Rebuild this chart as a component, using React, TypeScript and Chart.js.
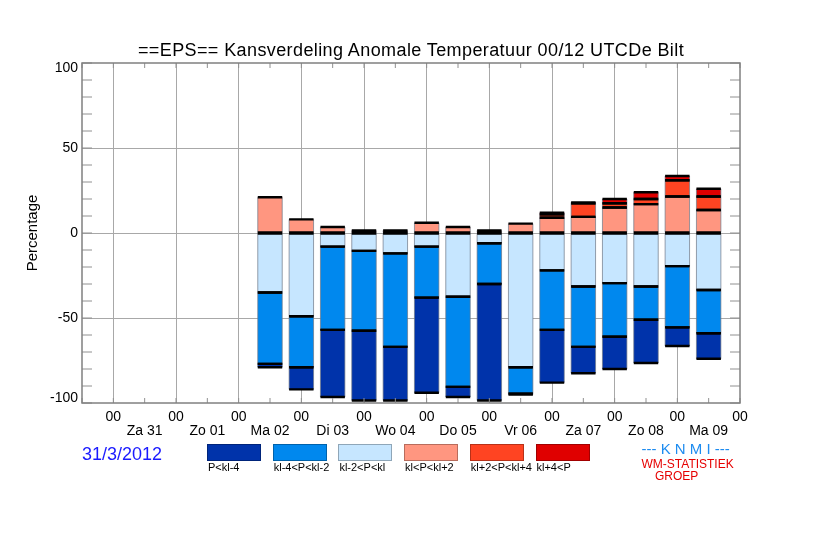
import { useEffect, useRef } from "react";
import { Chart, registerables } from "chart.js";

Chart.register(...registerables);

// x axis runs in half-day steps: 0 = Vr 30 12 UTC, odd = 00 UTC, even = 12 UTC
const dayLabels = ["Za 31", "Zo 01", "Ma 02", "Di 03", "Wo 04", "Do 05", "Vr 06", "Za 07", "Zo 08", "Ma 09"];
const barSlots = [6, 7, 8, 9, 10, 11, 12, 13, 14, 15, 16, 17, 18, 19, 20];

// percentages per class (below normal drawn downwards)
const pBelow4 = [2, 13, 39.5, 41, 31.5, 56, 6, 68.5, 0.5, 31, 15.5, 19, 25.5, 11, 15];
const p4to2 = [42, 30, 49, 47, 55, 30, 53, 24, 15.5, 35, 35.5, 31.5, 19.5, 36, 25.5];
const p2to0 = [35, 49, 8, 10.5, 12, 8, 37.5, 6, 79, 22, 31.5, 29.5, 31.5, 19.5, 33.5];
const p0to2 = [21, 8, 3.5, 1.5, 1.5, 6, 3.5, 1.5, 5.5, 9, 9.5, 15, 17, 21.5, 13.5];
const p2to4 = [0, 0, 0, 0, 0, 0, 0, 0, 0, 2, 8, 2.5, 3, 9.5, 8];
const pAbove4 = [0, 0, 0, 0, 0, 0, 0, 0, 0, 1, 0.5, 2.5, 4, 2.5, 4.5];

const classLabels = ["P<kl-4", "kl-4<P<kl-2", "kl-2<P<kl", "kl<P<kl+2", "kl+2<P<kl+4", "kl+4<P"];
const classColors = ["#0033aa", "#0088ee", "#c6e6ff", "#ff9680", "#ff4422", "#e00000"];

const yTickLabels = [100, 50, 0, -50, -100];

const FONT = "'Liberation Sans', Arial, Helvetica, sans-serif";

const toPoints = (vals: number[], sign: number) =>
  vals.map((v, i) => ({ x: barSlots[i], y: sign * v }));

const framePlugin = {
  id: "frame",
  afterDatasetsDraw(chart: any) {
    const { ctx, chartArea: a, scales } = chart;
    ctx.save();
    chart.data.datasets.forEach((ds: any, i: number) => {
      const meta = chart.getDatasetMeta(i);
      meta.data.forEach((bar: any, j: number) => {
        if (!ds.data[j].y) return;
        const { x, y, base, width } = bar.getProps(["x", "y", "base", "width"], true);
        const l = x - width / 2;
        const r = x + width / 2;
        ctx.strokeStyle = "rgba(110,120,135,0.7)";
        ctx.lineWidth = 1;
        ctx.beginPath();
        ctx.moveTo(l, y);
        ctx.lineTo(l, base);
        ctx.moveTo(r, y);
        ctx.lineTo(r, base);
        ctx.stroke();
        ctx.strokeStyle = "#000";
        ctx.lineWidth = 2.4;
        ctx.beginPath();
        ctx.moveTo(l, y);
        ctx.lineTo(r, y);
        ctx.moveTo(l, base);
        ctx.lineTo(r, base);
        ctx.stroke();
      });
    });

    ctx.strokeStyle = "#909090";
    ctx.lineWidth = 1;
    ctx.beginPath();
    scales.y.ticks.forEach((t: any) => {
      const py = scales.y.getPixelForValue(t.value);
      ctx.moveTo(a.left, py);
      ctx.lineTo(a.left + 10, py);
      ctx.moveTo(a.right - 10, py);
      ctx.lineTo(a.right, py);
    });
    scales.x.ticks.forEach((t: any) => {
      const px = scales.x.getPixelForValue(t.value);
      ctx.moveTo(px, a.bottom);
      ctx.lineTo(px, a.bottom - 5);
      ctx.moveTo(px, a.top);
      ctx.lineTo(px, a.top + 5);
    });
    ctx.stroke();

    ctx.strokeStyle = "#808080";
    ctx.lineWidth = 1.5;
    ctx.strokeRect(a.left, a.top, a.right - a.left, a.bottom - a.top);
    ctx.restore();
  },
};

function Text({ x, base, size, color = "#000", children, spacing = 0 }: any) {
  return (
    <div
      style={{
        position: "absolute",
        left: x,
        top: base - size * 0.8465,
        fontFamily: FONT,
        fontSize: size,
        lineHeight: `${size}px`,
        color,
        whiteSpace: "pre",
        letterSpacing: spacing,
      }}
    >
      {children}
    </div>
  );
}

export default function App() {
  const canvasRef = useRef<HTMLCanvasElement | null>(null);

  useEffect(() => {
    document.body.style.margin = "0";
    if (!canvasRef.current) return;
    const chart = new Chart(canvasRef.current, {
      type: "bar",
      data: {
        datasets: [
          { label: classLabels[2], data: toPoints(p2to0, -1), backgroundColor: classColors[2] },
          { label: classLabels[1], data: toPoints(p4to2, -1), backgroundColor: classColors[1] },
          { label: classLabels[0], data: toPoints(pBelow4, -1), backgroundColor: classColors[0] },
          { label: classLabels[3], data: toPoints(p0to2, 1), backgroundColor: classColors[3] },
          { label: classLabels[4], data: toPoints(p2to4, 1), backgroundColor: classColors[4] },
          { label: classLabels[5], data: toPoints(pAbove4, 1), backgroundColor: classColors[5] },
        ] as any,
      },
      options: {
        responsive: false,
        animation: false,
        devicePixelRatio: 1,
        layout: { padding: { top: 63, right: 82, bottom: 0, left: 0 } },
        datasets: {
          bar: { barPercentage: 0.78, categoryPercentage: 1, borderWidth: 0, inflateAmount: 0 } as any,
        },
        plugins: {
          legend: { display: false },
          tooltip: { enabled: false },
          title: { display: false },
        },
        scales: {
          x: {
            type: "linear",
            stacked: true,
            offset: false,
            min: 0,
            max: 21,
            afterFit: (s: any) => {
              s.height = 135;
            },
            border: { display: false },
            grid: {
              offset: false,
              drawTicks: false,
              lineWidth: 1,
              color: (c: any) =>
                c.tick && c.tick.value % 2 === 1 && c.tick.value < 21 ? "#a8a8a8" : "transparent",
            },
            ticks: {
              stepSize: 1,
              autoSkip: false,
              maxRotation: 0,
              padding: 7,
              color: "#000",
              font: { family: FONT, size: 14, lineHeight: 1 },
              callback: (v: any) => {
                const n = Number(v);
                if (n % 2 === 1) return "00";
                if (n >= 2) return ["", dayLabels[n / 2 - 1]];
                return "";
              },
            },
          } as any,
          y: {
            stacked: true,
            min: -100,
            max: 100,
            afterFit: (s: any) => {
              s.width = 82;
            },
            border: { display: false },
            grid: {
              drawTicks: false,
              lineWidth: 1,
              color: (c: any) =>
                c.tick && Math.abs(c.tick.value) < 100 && c.tick.value % 50 === 0 ? "#a8a8a8" : "transparent",
            },
            title: {
              display: true,
              text: "Percentage",
              color: "#000",
              font: { family: FONT, size: 15, lineHeight: 1.2 },
              padding: { top: 24, bottom: 0 },
            },
            ticks: {
              stepSize: 10,
              autoSkip: false,
              padding: 4,
              color: "#000",
              font: { family: FONT, size: 14, lineHeight: 0.7 },
              callback: (v: any) => {
                const n = Number(v);
                if (!yTickLabels.includes(n)) return "";
                if (n === 100) return ["", String(n)];
                if (n === -100) return [String(n), ""];
                return String(n);
              },
            },
          } as any,
        },
      },
      plugins: [framePlugin],
    });
    return () => chart.destroy();
  }, []);

  const legendOrder = [0, 1, 2, 3, 4, 5];

  return (
    <div style={{ position: "relative", width: 822, height: 538, background: "#fff", overflow: "hidden" }}>
      <canvas ref={canvasRef} width={822} height={538} style={{ display: "block" }} />
      <div
        style={{
          position: "absolute",
          left: 0,
          width: 822,
          top: 56.3 - 18 * 0.8465,
          textAlign: "center",
          fontFamily: FONT,
          fontSize: 18,
          lineHeight: "18px",
          letterSpacing: 0.4,
          whiteSpace: "pre",
        }}
      >
        ==EPS== Kansverdeling Anomale Temperatuur 00/12 UTCDe Bilt
      </div>
      <Text x={82} base={460.7} size={18} color="#1a1aff">
        31/3/2012
      </Text>
      {legendOrder.map((k, i) => (
        <div key={k}>
          <div
            style={{
              position: "absolute",
              left: 207 + i * 65.7,
              top: 444,
              width: 54,
              height: 17,
              boxSizing: "border-box",
              background: classColors[k],
              border: "1px solid rgba(0,0,0,0.28)",
            }}
          />
          <Text x={208 + i * 65.7} base={471} size={11}>
            {classLabels[k]}
          </Text>
        </div>
      ))}
      <Text x={641.5} base={454} size={15} color="#1e8cf0">
        --- K N M I ---
      </Text>
      <Text x={641.5} base={467.7} size={12} color="#e60000">
        WM-STATISTIEK
      </Text>
      <Text x={655} base={480} size={12} color="#e60000">
        GROEP
      </Text>
    </div>
  );
}
